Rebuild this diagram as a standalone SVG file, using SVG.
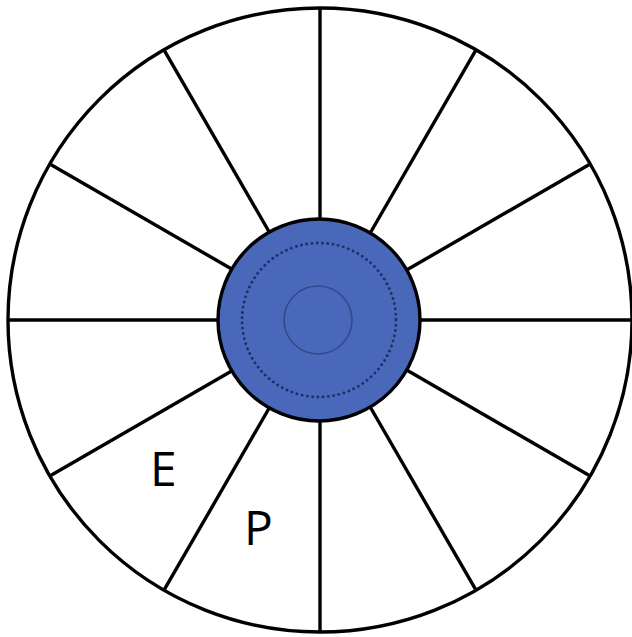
<svg xmlns="http://www.w3.org/2000/svg" width="632" height="637" viewBox="0 0 632 637">
<style>
.ring{fill:#ffffff;stroke:#000000;stroke-width:3.4}
.spoke{stroke:#000000;stroke-width:3.4;stroke-linecap:butt}
.hub{fill:#4968B9;stroke:#000000;stroke-width:3.4}
.dots{fill:none;stroke:#1f2e63;stroke-width:2.8;stroke-dasharray:0.1 5.2;stroke-linecap:round}
.core{fill:none;stroke:#33498a;stroke-width:1.6}
.lbl{font-family:"Open Sans","Liberation Sans",Arial,sans-serif;font-size:48px;fill:#000000}
</style>
<g id="outer">
<circle class="ring" cx="320" cy="320" r="312"/>
</g>
<g id="spokes">
<line class="spoke" x1="421" y1="320" x2="632" y2="320"/>
<line class="spoke" x1="219" y1="320" x2="8" y2="320"/>
<line class="spoke" x1="320" y1="219" x2="320" y2="8"/>
<line class="spoke" x1="320" y1="421" x2="320" y2="632"/>
<line class="spoke" x1="407.5" y1="269.5" x2="590.2" y2="164"/>
<line class="spoke" x1="370.5" y1="232.5" x2="476" y2="49.8"/>
<line class="spoke" x1="269.5" y1="232.5" x2="164" y2="49.8"/>
<line class="spoke" x1="232.5" y1="269.5" x2="49.8" y2="164"/>
<line class="spoke" x1="232.5" y1="370.5" x2="49.8" y2="476"/>
<line class="spoke" x1="269.5" y1="407.5" x2="164" y2="590.2"/>
<line class="spoke" x1="370.5" y1="407.5" x2="476" y2="590.2"/>
<line class="spoke" x1="407.5" y1="370.5" x2="590.2" y2="476"/>
</g>
<g id="hub">
<circle class="hub" cx="319" cy="320" r="101"/>
<circle class="dots" cx="319" cy="320" r="77"/>
<circle class="core" cx="318" cy="320" r="34"/>
</g>
<g id="labels">
<text class="lbl" x="150" y="486">E</text>
<text class="lbl" x="244" y="545">P</text>
</g>
</svg>
